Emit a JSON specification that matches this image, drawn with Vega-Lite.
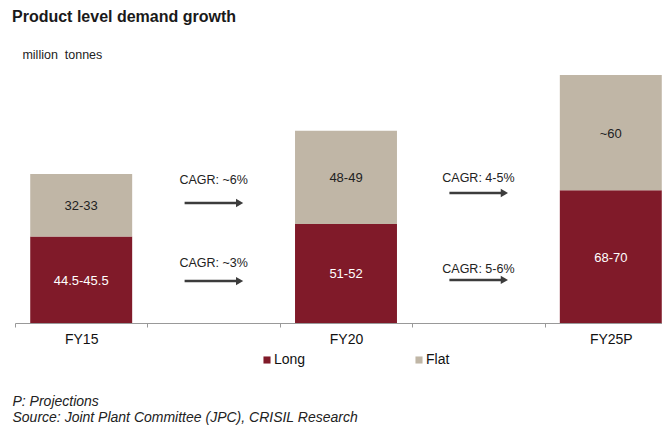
{
  "$schema": "https://vega.github.io/schema/vega-lite/v6.json",
  "width": 662,
  "height": 250,
  "autosize": {"type": "none"},
  "padding": {"left": 15, "top": 73, "right": -15, "bottom": 112},
  "background": "white",
  "config": {"view": {"stroke": null}, "font": "Liberation Sans"},
  "title": {
    "text": "Product level demand growth",
    "subtitle": "\u200b\u00a0\u00a0\u00a0million\u00a0\u00a0tonnes",
    "anchor": "start",
    "frame": "group",
    "dx": -3,
    "offset": 12,
    "fontSize": 16,
    "fontWeight": "bold",
    "color": "#1a1a1a",
    "subtitleFontSize": 12.5,
    "subtitleColor": "#222222",
    "subtitlePadding": 24,
    "font": "Liberation Sans",
    "subtitleFont": "Liberation Sans"
  },
  "datasets": {
    "demand": [
      {"year": "FY15", "type": "Long", "value": 45, "label": "44.5-45.5"},
      {"year": "FY15", "type": "Flat", "value": 32.5, "label": "32-33"},
      {"year": "FY20", "type": "Long", "value": 51.5, "label": "51-52"},
      {"year": "FY20", "type": "Flat", "value": 48.5, "label": "48-49"},
      {"year": "FY25P", "type": "Long", "value": 69, "label": "68-70"},
      {"year": "FY25P", "type": "Flat", "value": 60, "label": "~60"}
    ],
    "cagr": [
      {"year": "gap1", "label": "CAGR: ~6%", "textAt": 74.4, "arrowAt": 62.4},
      {"year": "gap1", "label": "CAGR: ~3%", "textAt": 31.2, "arrowAt": 21.8},
      {"year": "gap2", "label": "CAGR: 4-5%", "textAt": 75.4, "arrowAt": 67.6},
      {"year": "gap2", "label": "CAGR: 5-6%", "textAt": 28.1, "arrowAt": 22.4}
    ]
  },
  "layer": [
    {
      "data": {"name": "demand"},
      "mark": {"type": "bar", "width": {"band": 0.77}},
      "encoding": {
        "x": {
          "field": "year",
          "type": "nominal",
          "sort": null,
          "scale": {"domain": ["FY15", "gap1", "FY20", "gap2", "FY25P"], "paddingInner": 0, "paddingOuter": 0},
          "axis": {
            "title": ["P: Projections", "Source: Joint Plant Committee (JPC), CRISIL Research"],
            "titleFontStyle": "italic",
            "titleFontWeight": "normal",
            "titleFontSize": 14,
            "titleColor": "#222222",
            "titleAnchor": "start",
            "titleAlign": "left",
            "titleX": -3,
            "titleY": 71,
            "titleBaseline": "top",
            "titleLineHeight": 16,
            "labelExpr": "indexof(datum.value, 'gap') == 0 ? '' : datum.value",
            "labelAngle": 0,
            "labelFontSize": 14,
            "labelColor": "#111111",
            "labelPadding": 5,
            "tickOffset": -66.2,
            "labelOffset": 66.2,
            "tickSize": 4,
            "tickColor": "#999999",
            "domainColor": "#999999",
            "grid": false
          }
        },
        "y": {"field": "value", "type": "quantitative", "stack": "zero", "scale": {"domain": [0, 130], "nice": false}, "axis": null},
        "color": {
          "field": "type",
          "type": "nominal",
          "scale": {"domain": ["Long", "Flat"], "range": ["#801a29", "#c0b6a6"]},
          "legend": {
            "orient": "none",
            "legendX": 245,
            "legendY": 280,
            "direction": "horizontal",
            "title": null,
            "symbolType": "square",
            "symbolSize": 50,
            "symbolStrokeWidth": 0,
            "labelFontSize": 14,
            "labelColor": "#111111",
            "labelOffset": 0,
            "columnPadding": 106,
            "padding": 0
          }
        }
      }
    },
    {
      "data": {"name": "demand"},
      "transform": [
        {"stack": "value", "groupby": ["year"], "sort": [{"field": "type", "order": "descending"}], "as": ["y0", "y1"]},
        {"calculate": "(datum.y0 + datum.y1) / 2", "as": "mid"}
      ],
      "mark": {"type": "text", "fontSize": 13, "dy": 1, "baseline": "middle", "align": "center"},
      "encoding": {
        "x": {"field": "year", "type": "nominal", "sort": null},
        "y": {"field": "mid", "type": "quantitative"},
        "text": {"field": "label"},
        "color": {"condition": {"test": "datum.type === 'Long'", "value": "white"}, "value": "#222222"}
      }
    },
    {
      "data": {"name": "cagr"},
      "mark": {"type": "rule", "strokeWidth": 2.5, "color": "#3c3c3c", "xOffset": -29, "x2Offset": 23},
      "encoding": {
        "x": {"field": "year", "type": "nominal", "sort": null},
        "x2": {"field": "year"},
        "y": {"field": "arrowAt", "type": "quantitative"}
      }
    },
    {
      "data": {"name": "cagr"},
      "mark": {"type": "point", "shape": "triangle-right", "filled": true, "size": 70, "color": "#3c3c3c", "opacity": 1, "xOffset": 26},
      "encoding": {
        "x": {"field": "year", "type": "nominal", "sort": null},
        "y": {"field": "arrowAt", "type": "quantitative"}
      }
    },
    {
      "data": {"name": "cagr"},
      "mark": {"type": "text", "fontSize": 12.5, "color": "#222222", "baseline": "middle", "align": "center"},
      "encoding": {
        "x": {"field": "year", "type": "nominal", "sort": null},
        "y": {"field": "textAt", "type": "quantitative"},
        "text": {"field": "label"}
      }
    }
  ]
}
